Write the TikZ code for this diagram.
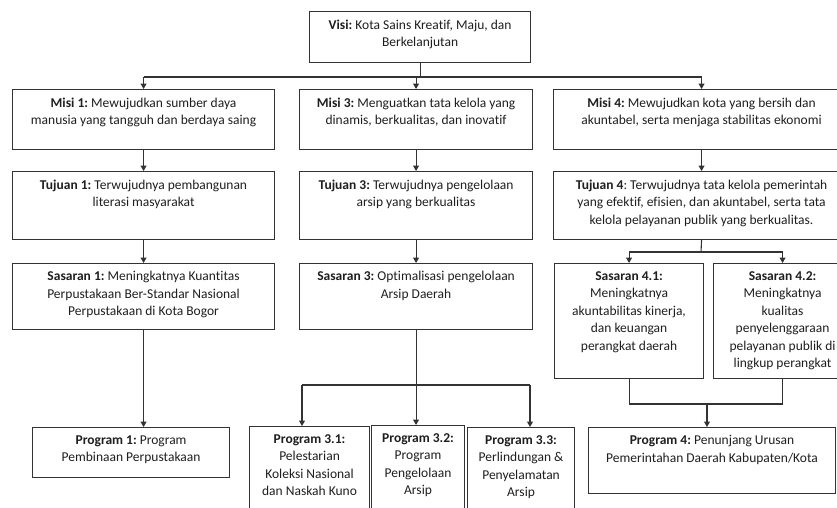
\documentclass[tikz,border=0pt]{standalone}
\usepackage{fontspec}
\setmainfont{Carlito}[Ligatures={NoCommon}]
\usetikzlibrary{arrows.meta}
\newcommand\boxtext[3]{\parbox[c][#2][t]{#1}{\frenchspacing\centering\vspace*{8pt}#3\par}}
\tikzset{
  bx/.style={draw=black!80, line width=1.1pt, inner sep=0pt, anchor=north west,
    font=\fontsize{13.5}{17.5}\selectfont, text=black!88},
  ln/.style={draw=black!80, line width=1.1pt},
  arr/.style={ln, -{Triangle[width=6pt,length=5.5pt]}}
}
\begin{document}
\begin{tikzpicture}[x=1pt,y=-1pt]
\useasboundingbox (0,0) rectangle (837,507);
\clip (0,0) rectangle (837,507);
\fill[white] (0,0) rectangle (837,507);
% boxes
\node[bx] (visi) at (309,11) {\boxtext{221pt}{51pt}{\textbf{Visi:} Kota Sains Kreatif, Maju, dan\\Berkelanjutan}};
\node[bx] (misi1) at (12,89) {\boxtext{262pt}{60pt}{\textbf{Misi 1:} Mewujudkan sumber daya\\manusia yang tangguh dan berdaya saing}};
\node[bx] (misi3) at (299,89) {\boxtext{233pt}{60pt}{\textbf{Misi 3:} Menguatkan tata kelola yang\\dinamis, berkualitas, dan inovatif}};
\node[bx] (misi4) at (553,89) {\boxtext{296pt}{60pt}{\textbf{Misi 4:} Mewujudkan kota yang bersih dan\\akuntabel, serta menjaga stabilitas ekonomi}};
\node[bx] (tuj1) at (12,171) {\boxtext{262pt}{68pt}{\textbf{Tujuan 1:} Terwujudnya pembangunan\\literasi masyarakat}};
\node[bx] (tuj3) at (299,171) {\boxtext{233pt}{68pt}{\textbf{Tujuan 3:} Terwujudnya pengelolaan\\arsip yang berkualitas}};
\node[bx] (tuj4) at (553,171) {\boxtext{296pt}{68pt}{\textbf{Tujuan 4}: Terwujudnya tata kelola pemerintah\\yang efektif, efisien, dan akuntabel, serta tata\\kelola pelayanan publik yang berkualitas.}};
\node[bx] (sas1) at (12,263) {\boxtext{262pt}{66pt}{\textbf{Sasaran 1:} Meningkatnya Kuantitas\\Perpustakaan Ber-Standar Nasional\\Perpustakaan di Kota Bogor}};
\node[bx] (sas3) at (299,263) {\boxtext{233pt}{66pt}{\textbf{Sasaran 3:} Optimalisasi pengelolaan\\Arsip Daerah}};
\node[bx] (sas41) at (554,263) {\boxtext{149pt}{115pt}{\textbf{Sasaran 4.1:}\\Meningkatnya\\akuntabilitas kinerja,\\dan keuangan\\perangkat daerah}};
\node[bx] (sas42) at (713,263) {\boxtext{138pt}{115pt}{\textbf{Sasaran 4.2:}\\Meningkatnya\\kualitas\\penyelenggaraan\\pelayanan publik di\\lingkup perangkat}};
\node[bx] (p1) at (32,427) {\boxtext{197pt}{50pt}{\textbf{Program 1:} Program\\Pembinaan Perpustakaan}};
\node[bx] (p31) at (249,426) {\boxtext{120pt}{95pt}{\textbf{Program 3.1:}\\Pelestarian\\Koleksi Nasional\\dan Naskah Kuno}};
\node[bx] (p32) at (371,425) {\boxtext{93pt}{95pt}{\textbf{Program 3.2:}\\Program\\Pengelolaan\\Arsip}};
\node[bx] (p33) at (467,427) {\boxtext{107pt}{95pt}{\textbf{Program 3.3:}\\Perlindungan \&\\Penyelamatan\\Arsip}};
\node[bx] (p4) at (588,427) {\boxtext{247pt}{66pt}{\textbf{Program 4:} Penunjang Urusan\\Pemerintahan Daerah Kabupaten/Kota}};
% junction coordinates
\coordinate (j0) at (419,77);
\coordinate (j4) at (701,252);
\coordinate (j3) at (418,385);
\coordinate (b31) at (302,385);
\coordinate (b33) at (530,385);
\coordinate (j5) at (707,404);
% connectors
\draw[ln] (visi.south) -- (visi.south |- j0);
\draw[ln] (misi1.north |- j0) -- (misi4.north |- j0);
\draw[arr] (misi1.north |- j0) -- (misi1.north);
\draw[arr] (misi3.north |- j0) -- (misi3.north);
\draw[arr] (misi4.north |- j0) -- (misi4.north);
\draw[arr] (misi1.south) -- (tuj1.north);
\draw[arr] (misi3.south) -- (tuj3.north);
\draw[arr] (misi4.south) -- (tuj4.north);
\draw[arr] (tuj1.south) -- (sas1.north);
\draw[arr] (tuj3.south) -- (sas3.north);
\draw[ln] (tuj4.south) -- (j4);
\draw[ln] (sas41.north |- j4) -- (sas42.north |- j4);
\draw[arr] (sas41.north |- j4) -- (sas41.north);
\draw[arr] (sas42.north |- j4) -- (sas42.north);
\draw[arr] (sas1.south) -- (sas1.south |- p1.north);
\draw[ln] (sas3.south) -- (sas3.south |- j3);
\draw[ln] (b31) -- (b33);
\draw[arr] (b31) -- (b31 |- p31.north);
\draw[arr] (sas3.south |- j3) -- (sas3.south |- p32.north);
\draw[arr] (b33) -- (b33 |- p33.north);
\draw[ln] (sas41.south) |- (j5) -| (sas42.south);
\draw[arr] (j5) -- (j5 |- p4.north);
\end{tikzpicture}
\end{document}
